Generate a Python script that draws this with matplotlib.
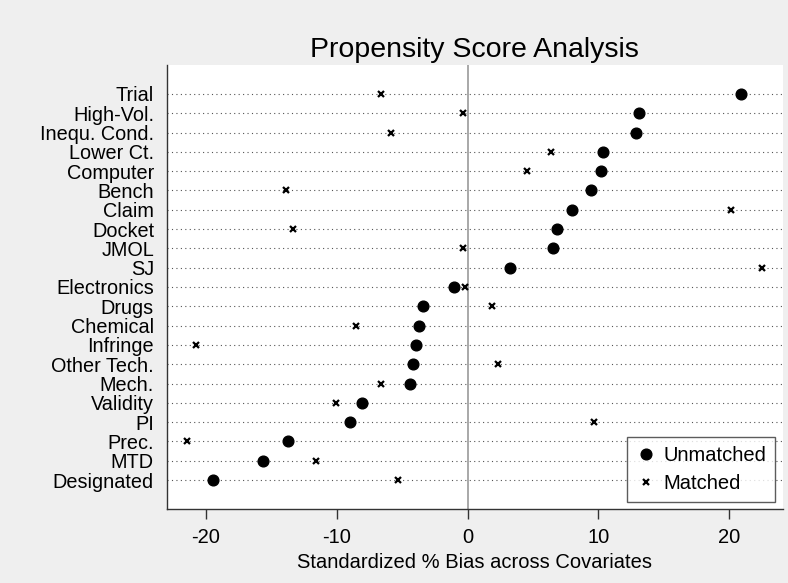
# Propensity score balance plot (dot chart)

import matplotlib.pyplot as plt
import numpy as np

# Covariates, top to bottom as they appear on the chart
covariates = [
    "Trial", "High-Vol.", "Inequ. Cond.", "Lower Ct.", "Computer", "Bench",
    "Claim", "Docket", "JMOL", "SJ", "Electronics", "Drugs", "Chemical",
    "Infringe", "Other Tech.", "Mech.", "Validity", "PI", "Prec.", "MTD",
    "Designated",
]

# Standardized % bias before matching
unmatched = [
    20.9, 13.1, 12.85, 10.35, 10.2, 9.45, 8.0, 6.8, 6.55, 3.27, -1.0,
    -3.4, -3.68, -3.93, -4.19, -4.42, -8.03, -8.95, -13.7, -15.6, -19.45,
]

# Standardized % bias after matching
matched = [
    -6.63, -0.34, -5.87, 6.37, 4.54, -13.86, 20.14, -13.32, -0.37, 22.48, -0.2,
    1.89, -8.51, -20.75, 2.35, -6.6, -10.02, 9.68, -21.41, -11.6, -5.34,
]

x_ticks = [-20, -10, 0, 10, 20]

plt.rcParams["font.family"] = ["Liberation Sans", "DejaVu Sans"]

fig = plt.figure(figsize=(7.88, 5.83), dpi=100, facecolor="#efefef")
ax = fig.add_axes([166.5 / 788, 1 - 509 / 583, (783 - 166.5) / 788, (509 - 65) / 583])
ax.set_facecolor("white")

rows = np.arange(len(covariates), 0, -1)

# dotted guide line for every covariate
for y in rows:
    ax.axhline(y, color="#555555", lw=0.8, linestyle=(0, (1, 3)), zorder=1)

ax.axvline(0, color="#999999", lw=1.2, zorder=1)

ax.plot(unmatched, rows, "o", color="black", markersize=7.7, linestyle="none",
        label="Unmatched", zorder=3)
ax.plot(matched, rows, "x", color="black", markersize=5, markeredgewidth=1.6,
        linestyle="none", label="Matched", zorder=3)

ax.set_xlim(-23.0, 24.1)
ax.set_ylim(-0.5, 22.5)

ax.set_yticks(rows)
ax.set_yticklabels(covariates, fontsize=14.3)
ax.tick_params(axis="y", length=0, pad=9)

ax.set_xticks(x_ticks)
ax.set_xticklabels([str(t) for t in x_ticks], fontsize=14.5)
ax.tick_params(axis="x", length=7, width=1, color="#333333", pad=7)

ax.set_xlabel("Standardized % Bias across Covariates", fontsize=14.5, labelpad=4)
ax.set_title("Propensity Score Analysis", fontsize=20.5, pad=6)

for side in ["top", "right"]:
    ax.spines[side].set_visible(False)
for side in ["left", "bottom"]:
    ax.spines[side].set_color("#333333")
    ax.spines[side].set_linewidth(1)

leg = ax.legend(loc="lower right", fontsize=14.5, frameon=True, fancybox=False,
                edgecolor="#333333", borderpad=0.45, handletextpad=0.35,
                handlelength=1.0, labelspacing=0.45, borderaxespad=0,
                bbox_to_anchor=(775 / 788, 1 - 501.7 / 583),
                bbox_transform=fig.transFigure)
leg.get_frame().set_linewidth(1)

plt.savefig("out.png", dpi=100, facecolor=fig.get_facecolor())
